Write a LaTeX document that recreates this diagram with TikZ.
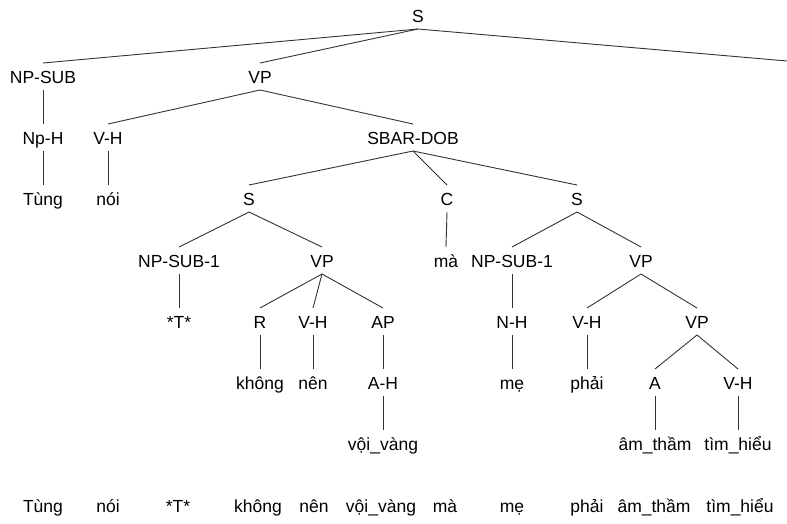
\documentclass[tikz,border=0pt]{standalone}
\usepackage{fontspec}
\setmainfont{Liberation Sans}
\begin{document}
\begin{tikzpicture}[x=1pt,y=-1pt,
  lab/.style={anchor=base, inner xsep=0pt, inner ysep=3pt, outer sep=0pt,
    text height=17pt, text depth=4pt, font=\fontsize{17.5}{20}\selectfont, text=black},
  edge/.style={draw=black!80, line width=0.9pt}]
\useasboundingbox (0,0) rectangle (787,523);
% row 1
\node[lab] (s0) at (418,22) {S};
% row 2
\node[lab] (npsub) at (43,83) {NP-SUB};
\node[lab] (vp1) at (260,83) {VP};
\coordinate (rightend) at (787,61);
% row 3
\node[lab] (nph) at (43,144) {Np-H};
\node[lab] (vh1) at (108,144) {V-H};
\node[lab] (sbar) at (413,144) {SBAR-DOB};
% row 4
\node[lab] (tung) at (43,205) {Tùng};
\node[lab] (noi) at (108,205) {nói};
\node[lab] (s1) at (249,205) {S};
\node[lab] (c) at (447,205) {C};
\node[lab] (s2) at (577,205) {S};
% row 5
\node[lab] (npa) at (179,267) {NP-SUB-1};
\node[lab] (vp2) at (322,267) {VP};
\node[lab] (ma) at (446,267) {mà};
\node[lab] (npb) at (512,267) {NP-SUB-1};
\node[lab] (vp3) at (641,267) {VP};
% row 6
\node[lab] (t) at (179,328) {*T*};
\node[lab] (r) at (260,328) {R};
\node[lab] (vh2) at (313,328) {V-H};
\node[lab] (ap) at (383,328) {AP};
\node[lab] (nh) at (512,328) {N-H};
\node[lab] (vh3) at (587,328) {V-H};
\node[lab] (vp4) at (697,328) {VP};
% row 7
\node[lab] (khong) at (260,389) {không};
\node[lab] (nen) at (313,389) {nên};
\node[lab] (ah) at (383,389) {A-H};
\node[lab] (me) at (512,389) {mẹ};
\node[lab] (phai) at (587,389) {phải};
\node[lab] (a) at (655,389) {A};
\node[lab] (vh4) at (738,389) {V-H};
% row 8
\node[lab] (voi) at (383,450) {vội\_vàng};
\node[lab] (am) at (655,450) {âm\_thầm};
\node[lab] (tim) at (738,450) {tìm\_hiểu};
% sentence row
\node[lab] (w1) at (43,512) {Tùng};
\node[lab] (w2) at (108,512) {nói};
\node[lab] (w3) at (178,512) {*T*};
\node[lab] (w4) at (258,512) {không};
\node[lab] (w5) at (314,512) {nên};
\node[lab] (w6) at (381,512) {vội\_vàng};
\node[lab] (w7) at (445,512) {mà};
\node[lab] (w8) at (512,512) {mẹ};
\node[lab] (w9) at (587,512) {phải};
\node[lab] (w10) at (654,512) {âm\_thầm};
\node[lab] (w11) at (740,512) {tìm\_hiểu};
% edges
\draw[edge] (s0.south) -- (npsub.north);
\draw[edge] (s0.south) -- (vp1.north);
\draw[edge] (s0.south) -- (rightend);
\draw[edge] (npsub.south) -- (nph.north);
\draw[edge] (nph.south) -- (tung.north);
\draw[edge] (vp1.south) -- (vh1.north);
\draw[edge] (vp1.south) -- (sbar.north);
\draw[edge] (vh1.south) -- (noi.north);
\draw[edge] (sbar.south) -- (s1.north);
\draw[edge] (sbar.south) -- (c.north);
\draw[edge] (sbar.south) -- (s2.north);
\draw[edge] (s1.south) -- (npa.north);
\draw[edge] (s1.south) -- (vp2.north);
\draw[edge] (c.south) -- (ma.north);
\draw[edge] (s2.south) -- (npb.north);
\draw[edge] (s2.south) -- (vp3.north);
\draw[edge] (npa.south) -- (t.north);
\draw[edge] (vp2.south) -- (r.north);
\draw[edge] (vp2.south) -- (vh2.north);
\draw[edge] (vp2.south) -- (ap.north);
\draw[edge] (npb.south) -- (nh.north);
\draw[edge] (vp3.south) -- (vh3.north);
\draw[edge] (vp3.south) -- (vp4.north);
\draw[edge] (r.south) -- (khong.north);
\draw[edge] (vh2.south) -- (nen.north);
\draw[edge] (ap.south) -- (ah.north);
\draw[edge] (nh.south) -- (me.north);
\draw[edge] (vh3.south) -- (phai.north);
\draw[edge] (vp4.south) -- (a.north);
\draw[edge] (vp4.south) -- (vh4.north);
\draw[edge] (ah.south) -- (voi.north);
\draw[edge] (a.south) -- (am.north);
\draw[edge] (vh4.south) -- (tim.north);
\end{tikzpicture}
\end{document}
